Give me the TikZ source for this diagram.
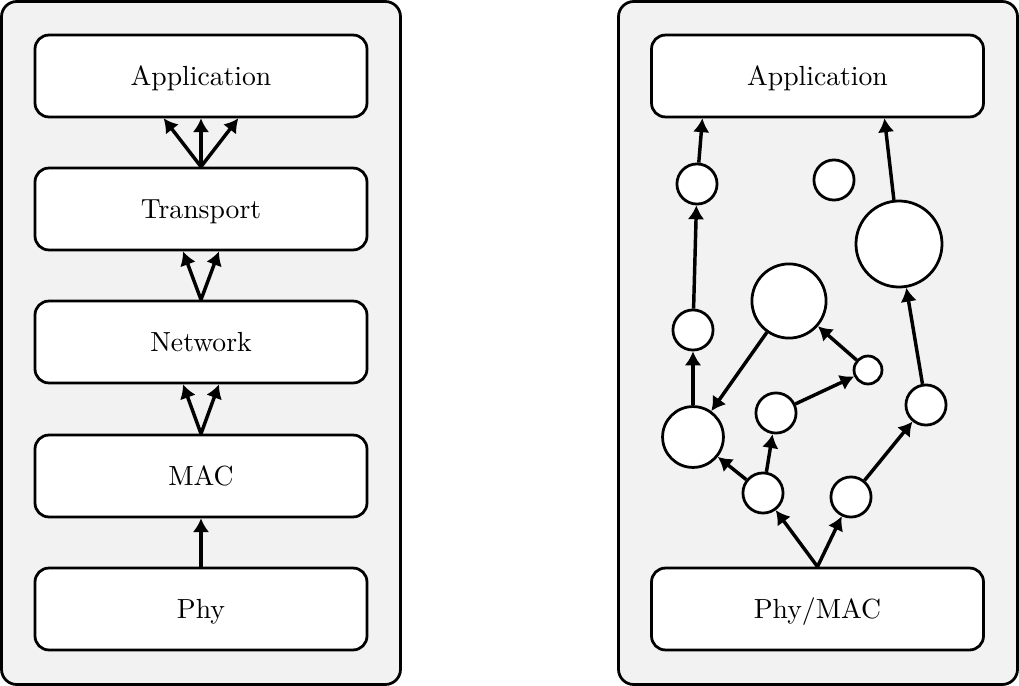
\documentclass[tikz,border=0pt]{standalone}
\usetikzlibrary{arrows.meta}
\begin{document}
\begin{tikzpicture}[x=0.3615pt,y=-0.3615pt,
  panel/.style={draw=black,fill=black!5,line width=1pt,rounded corners=5.5pt},
  layer/.style={draw=black,fill=white,line width=1pt,rounded corners=5pt,
    minimum width=120pt,minimum height=29.6pt,inner sep=0pt,font=\normalsize,
    text height=6.83pt,text depth=0pt},
  blob/.style={draw=black,fill=white,line width=1pt,circle,inner sep=0pt},
  arr/.style={line width=1.25pt,-{Latex[length=5pt,width=6pt]}}]
\useasboundingbox (0,0) rectangle (1019,686);
% panels
\draw[panel] (1.5,1.5) rectangle (400.5,684.5);
\draw[panel] (618.5,1.5) rectangle (1017.5,684.5);
% left stack
\node[layer] (app) at (201,76) {Application};
\node[layer] (tr)  at (201,209) {Transport};
\node[layer] (net) at (201,342) {Network};
\node[layer] (mac) at (201,476) {MAC};
\node[layer] (phy) at (201,609) {Phy};
\draw[arr] (tr.north) -- ([xshift=-13.5pt]app.south);
\draw[arr] (tr.north) -- (app.south);
\draw[arr] (tr.north) -- ([xshift=13.5pt]app.south);
\draw[arr] (net.north) -- ([xshift=-6.5pt]tr.south);
\draw[arr] (net.north) -- ([xshift=6.5pt]tr.south);
\draw[arr] (mac.north) -- ([xshift=-6.5pt]net.south);
\draw[arr] (mac.north) -- ([xshift=6.5pt]net.south);
\draw[arr] (phy.north) -- (mac.south);
% right side
\node[layer] (app2) at (817.5,76) {Application};
\node[layer] (pm)   at (817.5,609) {Phy/MAC};
\node[blob,minimum size=14.5pt] (c1)  at (697,184) {};
\node[blob,minimum size=14.5pt] (c2)  at (834,180) {};
\node[blob,minimum size=31.1pt] (c3)  at (899,244) {};
\node[blob,minimum size=14.5pt] (c4)  at (693,330) {};
\node[blob,minimum size=26.8pt] (c5)  at (789,301) {};
\node[blob,minimum size=10.1pt] (c6)  at (868,370) {};
\node[blob,minimum size=22pt]   (c7)  at (693,437) {};
\node[blob,minimum size=14.5pt] (c8)  at (776,413) {};
\node[blob,minimum size=14.5pt] (c9)  at (926,405) {};
\node[blob,minimum size=14.5pt] (c10) at (763,493) {};
\node[blob,minimum size=14.5pt] (c11) at (851,497) {};
\draw[arr] (pm.north) -- (c10);
\draw[arr] (pm.north) -- (c11);
\draw[arr] (c10) -- (c7);
\draw[arr] (c10) -- (c8);
\draw[arr] (c8) -- (c6);
\draw[arr] (c6) -- (c5);
\draw[arr] (c5) -- (c7);
\draw[arr] (c7) -- (c4);
\draw[arr] (c4) -- (c1);
\draw[arr] (c1) -- ([xshift=-41.6pt]app2.south);
\draw[arr] (c11) -- (c9);
\draw[arr] (c9) -- (c3);
\draw[arr] (c3) -- ([xshift=24.2pt]app2.south);
\end{tikzpicture}
\end{document}
